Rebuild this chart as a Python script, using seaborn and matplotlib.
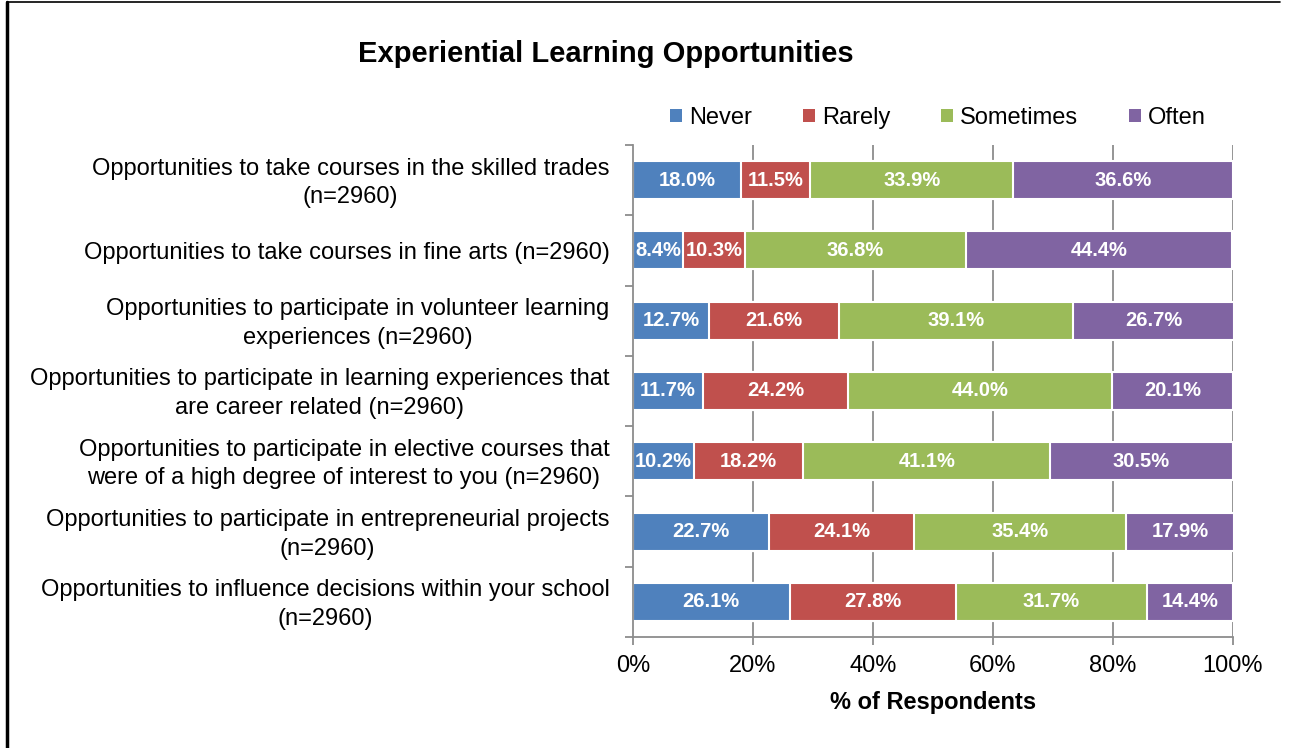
import matplotlib
matplotlib.use("Agg")
import matplotlib.pyplot as plt
import matplotlib.transforms as mtransforms
from matplotlib.patches import Patch
from matplotlib.ticker import FixedLocator
import seaborn as sns
import pandas as pd
import numpy as np

categories = [
    "Opportunities to take courses in the skilled trades\n(n=2960)",
    "Opportunities to take courses in fine arts (n=2960)",
    "Opportunities to participate in volunteer learning\nexperiences (n=2960)",
    "Opportunities to participate in learning experiences that\nare career related (n=2960)",
    "Opportunities to participate in elective courses that\nwere of a high degree of interest to you (n=2960)",
    "Opportunities to participate in entrepreneurial projects\n(n=2960)",
    "Opportunities to influence decisions within your school\n(n=2960)",
]
series_names = ["Never", "Rarely", "Sometimes", "Often"]
never = [18.0, 8.4, 12.7, 11.7, 10.2, 22.7, 26.1]
rarely = [11.5, 10.3, 21.6, 24.2, 18.2, 24.1, 27.8]
sometimes = [33.9, 36.8, 39.1, 44.0, 41.1, 35.4, 31.7]
often = [36.6, 44.4, 26.7, 20.1, 30.5, 17.9, 14.4]
colors = ["#4F81BD", "#C0504D", "#9BBB59", "#8064A2"]
x_ticks = [0, 20, 40, 60, 80, 100]
x_tick_labels = ["0%", "20%", "40%", "60%", "80%", "100%"]

sns.set_theme(style="white")
plt.rcParams["font.family"] = ["Liberation Sans", "DejaVu Sans"]
plt.rcParams["text.color"] = "black"
plt.rcParams["axes.labelcolor"] = "black"
plt.rcParams["xtick.labelcolor"] = "black"
plt.rcParams["ytick.labelcolor"] = "black"

values = np.array([never, rarely, sometimes, often])
cum = np.cumsum(values, axis=0)
df = pd.DataFrame({"category": categories})
for i, name in enumerate(series_names):
    df[name + "_cum"] = cum[i]

fig = plt.figure(figsize=(12.94, 7.48), dpi=100)
ax = fig.add_axes([633 / 1294, 1 - 637 / 748, 600 / 1294, 492 / 748])

grid_color = "#8C8C8C"
for xv in x_ticks[1:]:
    ax.axvline(xv, color=grid_color, lw=1.3, zorder=0)

# draw cumulative bars from the largest to the smallest so each segment shows
for i in reversed(range(len(series_names))):
    sns.barplot(data=df, x=series_names[i] + "_cum", y="category", orient="h",
                color=colors[i], width=0.54, edgecolor="white", linewidth=1.5,
                saturation=1, ax=ax, zorder=2)

# segment labels
for i in range(len(series_names)):
    for j in range(len(categories)):
        v = values[i, j]
        start = cum[i, j] - v
        ax.text(start + v / 2, j, f"{v:.1f}%", ha="center", va="center",
                color="white", fontsize=14.5, fontweight="bold", zorder=3)

ax.set_xlim(0, 100)
ax.set_ylim(len(categories) - 0.5, -0.5)
ax.set_xticks(x_ticks)
ax.set_xticklabels(x_tick_labels, fontsize=17)
ax.set_xlabel("% of Respondents", fontsize=17, fontweight="bold", labelpad=10)
ax.set_ylabel("")

ax.tick_params(axis="y", which="major", length=0, pad=17, labelsize=17)
ax.yaxis.set_minor_locator(FixedLocator(np.arange(-0.5, len(categories), 1.0)))
ax.tick_params(axis="y", which="minor", length=6, width=1.3, color=grid_color, left=True)
ax.tick_params(axis="x", which="major", length=6, width=1.3, color=grid_color,
               bottom=True, pad=7)
shift_up = mtransforms.ScaledTranslation(0, 3 / 100, fig.dpi_scale_trans)
for lbl in ax.get_yticklabels():
    lbl.set_multialignment("center")
    lbl.set_linespacing(1.38)
    if "\n" in lbl.get_text():
        lbl.set_transform(lbl.get_transform() + shift_up)

for s in ["top", "right"]:
    ax.spines[s].set_visible(False)
for s in ["left", "bottom"]:
    ax.spines[s].set_color(grid_color)
    ax.spines[s].set_linewidth(1.3)

handles = [Patch(facecolor=c, edgecolor="none", label=n) for c, n in zip(colors, series_names)]
fig.legend(handles=handles, loc="center", bbox_to_anchor=(938 / 1294, 1 - 118 / 748),
           ncol=4, frameon=False, fontsize=17, handlelength=0.5, handleheight=0.5,
           handletextpad=0.3, columnspacing=2.15)

fig.text(606 / 1294, 1 - 54 / 748, "Experiential Learning Opportunities",
         ha="center", va="center", fontsize=21, fontweight="bold")

# outer frame lines (left and top)
fig.add_artist(plt.Line2D([6.5 / 1294, 6.5 / 1294], [0, 1 - 1.5 / 748],
                          transform=fig.transFigure, color="black", lw=2.5))
fig.add_artist(plt.Line2D([6.5 / 1294, 1280 / 1294], [1 - 1.5 / 748, 1 - 1.5 / 748],
                          transform=fig.transFigure, color="black", lw=1.2))

fig.savefig("out.png", dpi=100)
